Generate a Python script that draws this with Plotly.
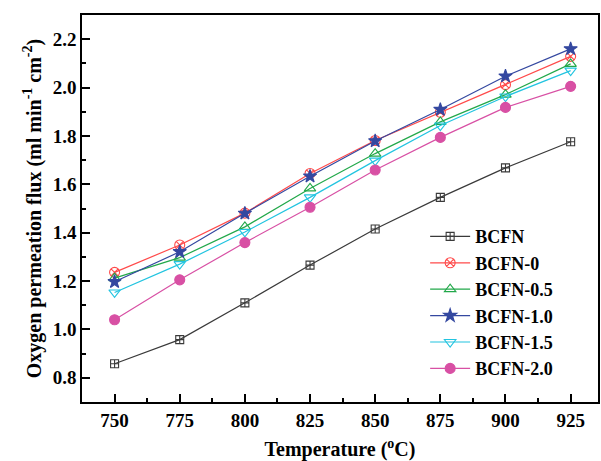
import plotly.graph_objects as go

temps = [750, 775, 800, 825, 850, 875, 900, 925]
bcfn = [0.858, 0.958, 1.110, 1.266, 1.415, 1.546, 1.668, 1.776]
bcfn_0 = [1.236, 1.349, 1.481, 1.645, 1.781, 1.898, 2.012, 2.129]
bcfn_05 = [1.212, 1.297, 1.424, 1.583, 1.727, 1.858, 1.971, 2.098]
bcfn_10 = [1.197, 1.321, 1.480, 1.633, 1.779, 1.909, 2.047, 2.160]
bcfn_15 = [1.153, 1.270, 1.403, 1.546, 1.698, 1.843, 1.963, 2.070]
bcfn_20 = [1.040, 1.205, 1.359, 1.505, 1.659, 1.794, 1.918, 2.005]

names = ["BCFN", "BCFN-0", "BCFN-0.5", "BCFN-1.0", "BCFN-1.5", "BCFN-2.0"]
series = [bcfn, bcfn_0, bcfn_05, bcfn_10, bcfn_15, bcfn_20]
colors = ["#3a3a3a", "#ff4a4a", "#22a84a", "#3448a0", "#22c4e0", "#d850a4"]
symbols = ["square-cross-open", "circle-x-open", "triangle-up-open", "star",
           "triangle-down-open", "circle"]
sizes = [8, 10, 10, 10, 10, 10]

fig = go.Figure()
for n, s, c, sym, sz in zip(names, series, colors, symbols, sizes):
    fig.add_trace(go.Scatter(
        x=temps, y=s, name=n, mode="lines+markers",
        line=dict(color=c, width=1.2),
        marker=dict(symbol=sym, size=sz, color=c, line=dict(color=c, width=1.1)),
    ))

font = "Liberation Serif, Times New Roman, serif"
fig.update_layout(
    width=601, height=461,
    margin=dict(l=82, r=3, t=15, b=59),
    paper_bgcolor="white", plot_bgcolor="white",
    font=dict(family=font, size=18, color="black"),
    showlegend=True,
    legend=dict(x=0.665, y=0.475, xanchor="left", yanchor="top",
                bgcolor="rgba(0,0,0,0)", tracegroupgap=0,
                font=dict(family=font, size=18, color="black", weight="bold"),
                itemwidth=40),
    xaxis=dict(
        range=[737.5, 935.5], tickmode="array", tickvals=temps,
        ticktext=[str(t) for t in temps],
        ticks="inside", ticklen=8, tickwidth=1.5, tickcolor="black",
        minor=dict(tickvals=[762.5, 787.5, 812.5, 837.5, 862.5, 887.5, 912.5],
                   ticks="inside", ticklen=4, tickwidth=1.5, tickcolor="black"),
        showline=True, linecolor="black", linewidth=1.5, mirror=True,
        showgrid=False, zeroline=False, automargin=False,
        tickfont=dict(family=font, size=19, weight="bold"),
        title=dict(text="Temperature (<sup>o</sup>C)", standoff=13,
                   font=dict(family=font, size=20, weight="bold")),
    ),
    yaxis=dict(
        range=[0.7, 2.3], tickmode="array",
        tickvals=[0.8, 1.0, 1.2, 1.4, 1.6, 1.8, 2.0, 2.2],
        ticktext=["0.8", "1.0", "1.2", "1.4", "1.6", "1.8", "2.0", "2.2"],
        ticks="inside", ticklen=8, tickwidth=1.5, tickcolor="black",
        minor=dict(tickvals=[0.9, 1.1, 1.3, 1.5, 1.7, 1.9, 2.1],
                   ticks="inside", ticklen=4, tickwidth=1.5, tickcolor="black"),
        showline=True, linecolor="black", linewidth=1.5, mirror=True,
        showgrid=False, zeroline=False, automargin=False,
        tickfont=dict(family=font, size=19, weight="bold"),
        title=dict(text="Oxygen permeation flux (ml min<sup>-1</sup> cm<sup>-2</sup>)",
                   standoff=6, font=dict(family=font, size=20, weight="bold")),
    ),
)

fig.write_html("out.html", config={"displayModeBar": False},
               post_script="document.body.style.margin='0';document.body.style.padding='0';")
